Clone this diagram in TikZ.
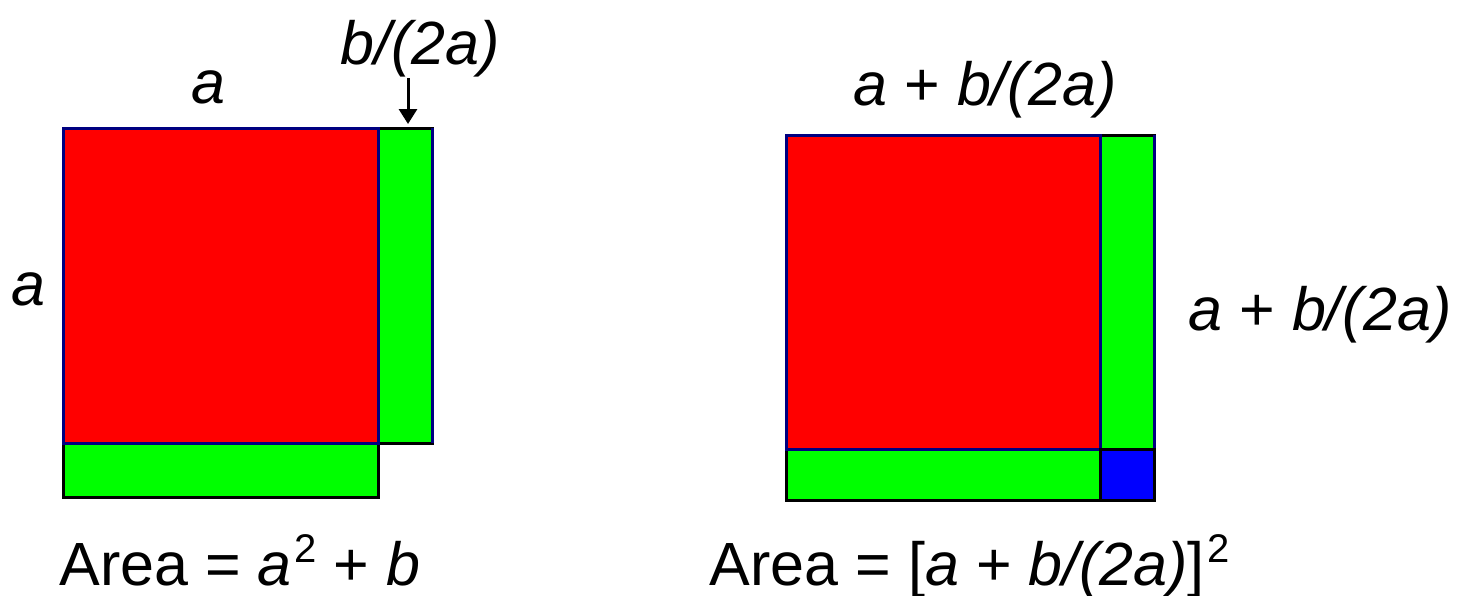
\documentclass[tikz,border=0pt]{standalone}
\usepackage{fontspec}
\setmainfont{Liberation Sans}
\usetikzlibrary{arrows.meta}
\definecolor{navyb}{RGB}{0,0,128}
\definecolor{sqred}{RGB}{255,0,0}
\definecolor{sqgreen}{RGB}{0,255,0}
\definecolor{sqblue}{RGB}{0,0,255}
\newcommand{\sqsup}{\kern3pt\raisebox{23pt}{\fontsize{40}{48}\selectfont 2}}
\begin{document}
\begin{tikzpicture}[x=1pt,y=-1pt,
  lbl/.style={inner sep=0pt, anchor=base, font=\fontsize{61}{72}\selectfont},
  redsq/.style={fill=sqred, draw=navyb, line width=3pt},
  grnsq/.style={fill=sqgreen, draw=black, line width=3pt},
  blusq/.style={fill=sqblue, draw=black, line width=3pt},
  navyedge/.style={draw=navyb, line width=3pt},
  pointer/.style={line width=3pt, -{Triangle[width=18pt,length=15pt]}}]
\useasboundingbox (0,0) rectangle (1465,595);
% ---- left figure ----
\coordinate (LA) at (63,128);
\coordinate (LB) at (378,443);
\coordinate (LC) at (432,128);
\coordinate (LD) at (432,443);
\coordinate (LE) at (63,497);
\coordinate (LF) at (378,128);
\path[grnsq] (LF) rectangle (LD);
\path[grnsq] (LE) rectangle (LB);
\path[redsq] (LA) rectangle (LB);
\draw[navyedge] (LC) -- (LD);
% ---- right figure ----
\coordinate (RA) at (786,135);
\coordinate (RB) at (1100,449);
\coordinate (RC) at (1154,135);
\coordinate (RD) at (1154,449);
\coordinate (RE) at (786,500);
\coordinate (RF) at (1100,135);
\coordinate (RG) at (1154,500);
\path[grnsq] (RF) rectangle (RD);
\path[grnsq] (RE) rectangle (RB);
\path[redsq] (RA) rectangle (RB);
\draw[navyedge] (RC) -- (RD);
\path[blusq] (RB) rectangle (RG);
% ---- labels ----
\node[lbl] (ltop) at (208,103) {\textit{a}};
\node[lbl] (lside) at (28,305) {\textit{a}};
\node[lbl] (lstrip) at (420,64) {\textit{b/(2a)}};
\coordinate (arrstart) at (408,78);
\coordinate (arrend) at (408,124);
\draw[pointer] (arrstart) -- (arrend);
\node[lbl] (rtop) at (985,105) {\textit{a} + \textit{b/(2a)}};
\node[lbl] (rside) at (1320,330) {\textit{a} + \textit{b/(2a)}};
\node[lbl] (larea) at (240,585) {Area = \textit{a}\sqsup{} + \textit{b}};
\node[lbl] (rarea) at (970,585) {Area = [\textit{a} + \textit{b/(2a)}]\sqsup};
\end{tikzpicture}
\end{document}
